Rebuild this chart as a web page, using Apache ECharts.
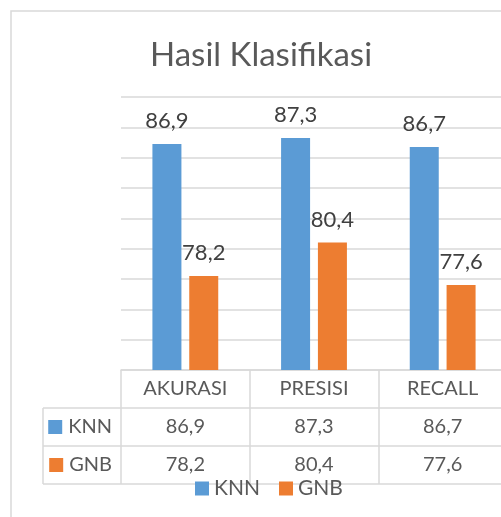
<!DOCTYPE html>
<html>
<head>
<meta charset="utf-8">
<script src="https://cdn.jsdelivr.net/npm/echarts@6/dist/echarts.min.js"></script>
<style>
  html, body { margin: 0; padding: 0; background: #fff; }
  #chart { width: 501px; height: 517px; }
</style>
</head>
<body>
<div id="chart"></div>
<script>
// data
var categories = ['AKURASI', 'PRESISI', 'RECALL'];
var seriesNames = ['KNN', 'GNB'];
var knnValues = [86.9, 87.3, 86.7];
var gnbValues = [78.2, 80.4, 77.6];
var colors = ['#5b9bd5', '#ed7d31'];

// layout (table under the plot, excel style)
var gridLeft = 121, gridTop = 97, axisY = 370, rowH = 38, tableLeft = 43;
var lineColor = '#d9d9d9';
var textColor = '#595959';
var font = 'Lato, "Open Sans", sans-serif';

function fmt(v) { return v.toFixed(1).replace('.', ','); }

var myChart = echarts.init(document.getElementById('chart'));

function rowAxis(idx, values) {
  return {
    type: 'category',
    gridIndex: 0,
    position: 'bottom',
    offset: rowH * idx,
    data: values.map(fmt),
    axisLine: { show: false },
    axisTick: { show: false },
    axisLabel: { fontSize: 20, color: textColor, fontFamily: font, margin: 9 },
    name: '{sq|}{t|' + seriesNames[idx - 1] + '}',
    nameLocation: 'start',
    nameGap: 9,
    nameTextStyle: {
      verticalAlign: 'top',
      padding: [9, 0, 0, 0],
      rich: {
        sq: { backgroundColor: colors[idx - 1], width: 14, height: 14 },
        t: { fontSize: 20, color: textColor, fontFamily: font, padding: [0, 0, 0, 6] }
      }
    }
  };
}

var option = {
  animation: false,
  textStyle: { fontFamily: font },
  title: {
    text: 'Hasil Klasifikasi',
    left: 145,
    top: 34,
    textStyle: { fontSize: 33, fontWeight: 'normal', color: textColor, fontFamily: font }
  },
  legend: {
    data: seriesNames,
    left: 190,
    top: 473,
    itemWidth: 14,
    itemHeight: 14,
    itemGap: 19,
    icon: 'rect',
    textStyle: { fontSize: 21, color: textColor, fontFamily: font }
  },
  grid: {
    left: gridLeft,
    width: 386,
    top: gridTop,
    height: axisY - gridTop,
    outerBoundsMode: 'none'
  },
  xAxis: [
    {
      type: 'category',
      data: categories,
      axisLine: { show: true, lineStyle: { color: lineColor, width: 1.5 } },
      axisTick: { show: true, length: rowH * 3, lineStyle: { color: lineColor, width: 1.5 } },
      axisLabel: { fontSize: 20, color: textColor, fontFamily: font, margin: 9 }
    },
    rowAxis(1, knnValues),
    rowAxis(2, gnbValues)
  ],
  yAxis: {
    type: 'value',
    min: 72,
    max: 90,
    interval: 2,
    axisLine: { show: false },
    axisTick: { show: false },
    axisLabel: { show: false },
    splitLine: { lineStyle: { color: lineColor, width: 1.5 } }
  },
  series: [
    {
      name: 'KNN',
      type: 'bar',
      data: knnValues,
      barWidth: 29,
      barGap: '27%',
      itemStyle: { color: colors[0] },
      label: {
        show: true, position: 'top', distance: 12,
        fontSize: 22, color: '#404040', fontFamily: font,
        formatter: function (p) { return fmt(p.value); }
      }
    },
    {
      name: 'GNB',
      type: 'bar',
      data: gnbValues,
      barWidth: 29,
      itemStyle: { color: colors[1] },
      label: {
        show: true, position: 'top', distance: 12,
        fontSize: 22, color: '#404040', fontFamily: font,
        formatter: function (p) { return fmt(p.value); }
      }
    }
  ],
  graphic: [
    // chart area border
    { type: 'rect', shape: { x: 11, y: 11, width: 600, height: 600 }, style: { fill: null, stroke: lineColor, lineWidth: 1.5 }, z: -1 },
    // table rows
    { type: 'line', shape: { x1: tableLeft, y1: axisY + rowH, x2: 510, y2: axisY + rowH }, style: { stroke: lineColor, lineWidth: 1.5 } },
    { type: 'line', shape: { x1: tableLeft, y1: axisY + rowH * 2, x2: 510, y2: axisY + rowH * 2 }, style: { stroke: lineColor, lineWidth: 1.5 } },
    { type: 'line', shape: { x1: tableLeft, y1: axisY + rowH * 3, x2: 510, y2: axisY + rowH * 3 }, style: { stroke: lineColor, lineWidth: 1.5 } },
    { type: 'line', shape: { x1: tableLeft, y1: axisY + rowH, x2: tableLeft, y2: axisY + rowH * 3 }, style: { stroke: lineColor, lineWidth: 1.5 } }
  ]
};

myChart.setOption(option);
</script>
</body>
</html>
